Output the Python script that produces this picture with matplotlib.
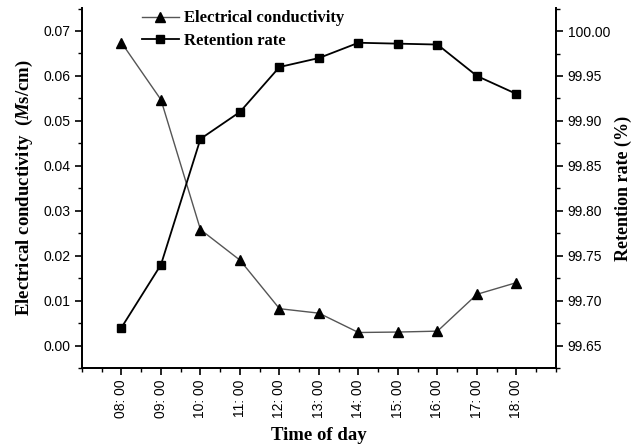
import matplotlib.pyplot as plt
import numpy as np
from matplotlib.ticker import MultipleLocator

# data
hours = ['08: 00', '09: 00', '10: 00', '11: 00', '12: 00', '13: 00',
         '14: 00', '15: 00', '16: 00', '17: 00', '18: 00']
conductivity = [0.0674, 0.0547, 0.0258, 0.0190, 0.0082, 0.0072,
                0.0029, 0.0030, 0.0032, 0.0114, 0.0140]
retention = [99.670, 99.740, 99.880, 99.910, 99.960, 99.970,
             99.987, 99.986, 99.985, 99.950, 99.930]

plt.rcParams['mathtext.fontset'] = 'custom'
plt.rcParams['mathtext.it'] = 'Liberation Serif:italic:bold'
plt.rcParams['mathtext.rm'] = 'Liberation Serif:bold'

serif = 'Liberation Serif'
sans = 'Liberation Sans'

x = np.arange(len(hours))

fig = plt.figure(figsize=(6.32, 4.46), dpi=100)
ax = fig.add_axes([0.1297, 0.1749, 0.75, 0.807])
ax2 = ax.twinx()

l1, = ax.plot(x, conductivity, color='#555555', lw=1.0, marker='^',
              ms=7, mfc='black', mec='black', label='Electrical conductivity')
l2, = ax2.plot(x, retention, color='black', lw=1.3, marker='s',
               ms=6, mfc='black', mec='black', label='Retention rate')

ax.set_xlim(-1, 11)
ax.set_ylim(-0.005, 0.0751)
ax2.set_ylim(99.625, 100.0256)

ax.set_xticks(x)
ax.set_xticklabels(hours, rotation=90, fontfamily=sans, fontsize=10)
ax.xaxis.set_minor_locator(MultipleLocator(0.5))
ax.yaxis.set_minor_locator(MultipleLocator(0.005))
ax2.yaxis.set_minor_locator(MultipleLocator(0.025))
ax.set_yticks(np.arange(0, 0.071, 0.01))
ax.set_yticklabels(['%.2f' % v for v in np.arange(0, 0.071, 0.01)],
                   fontfamily=sans, fontsize=10)
ax2.set_yticks(np.arange(99.65, 100.001, 0.05))
ax2.set_yticklabels(['%.2f' % v for v in np.arange(99.65, 100.001, 0.05)],
                    fontfamily=sans, fontsize=10)

for a in (ax, ax2):
    a.spines['top'].set_visible(False)
    for s in ('left', 'right', 'bottom'):
        a.spines[s].set_linewidth(1.3)
    a.tick_params(which='major', direction='out', length=5, width=1.2, colors='black')
    a.tick_params(which='minor', direction='out', length=3, width=1.0)

ax.set_xlabel('Time of day', fontfamily=serif, fontweight='bold', fontsize=13.5, labelpad=6)
ax.set_ylabel('Electrical conductivity  ($M$s/cm)', fontfamily=serif,
              fontweight='bold', fontsize=13.5, labelpad=6)
ax2.set_ylabel('Retention rate (%)', fontfamily=serif, fontweight='bold',
               fontsize=13, labelpad=3)

ax.legend([l1, l2], ['Electrical conductivity', 'Retention rate'],
          loc='upper left', bbox_to_anchor=(0.095, 1.035), frameon=False,
          prop={'family': serif, 'weight': 'bold', 'size': 12},
          handlelength=2.2, handletextpad=0.3, labelspacing=0.4)

fig.savefig('out.png', dpi=100)
